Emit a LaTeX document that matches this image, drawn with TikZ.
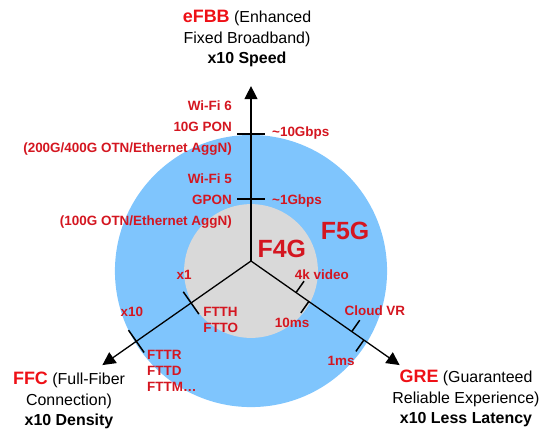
\documentclass[tikz,border=0pt]{standalone}
\usepackage{fontspec}
\setmainfont{Liberation Sans}
\usetikzlibrary{arrows.meta}
\definecolor{hellblau}{RGB}{127,197,253}
\definecolor{hellgrau}{RGB}{217,217,217}
\definecolor{titelrot}{RGB}{238,16,22}
\definecolor{markerrot}{RGB}{212,22,32}
\tikzset{
    achse/.style={line width=1.3pt, -{Triangle[length=13pt,width=13pt]}},
    strich/.style={line width=1.5pt},
    rotlabel/.style={text=markerrot, font=\fontsize{13.5}{16}\selectfont\bfseries, inner sep=0pt},
    gross/.style={rotlabel, font=\fontsize{25}{30}\selectfont\bfseries},
    titel/.style={align=center, font=\fontsize{16}{20.5}\selectfont, inner sep=0pt},
}
\newcommand{\rot}[1]{{\color{titelrot}\fontsize{18}{20.5}\selectfont\bfseries #1}}
\begin{document}
\begin{tikzpicture}
            \useasboundingbox (-8.855,-6.28) rectangle (10.548,9.208);
            % Kreise
            \fill [hellblau] (0,-0.353) circle (4.80);
            \fill [hellgrau] (0,-0.353) circle (2.36);
            % Achsen
            \coordinate (o) at (0,0);
            \coordinate (efbb) at (90:6.17);
            \coordinate (ffc) at (215:6.4);
            \coordinate (gre) at (-35:6.4);
            \draw [achse] (o) -- (efbb);
            \draw [achse] (o) -- (ffc);
            \draw [achse] (o) -- (gre);
            % Markierungen
            \draw [strich] (90:4.48) ++(-0.49,0) -- ++(0.98,0);
            \draw [strich] (90:2.19) ++(-0.49,0) -- ++(0.98,0);
            \draw [strich] (215:2.58) ++(125:0.48) -- ++(-55:0.96);
            \draw [strich] (215:4.94) ++(125:0.48) -- ++(-55:0.96);
            \draw [strich] (-35:1.94) -- ++(55:0.49);
            \draw [strich] (-35:2.49) -- ++(-125:0.49);
            \draw [strich] (-35:4.34) -- ++(55:0.49);
            \draw [strich] (-35:4.86) -- ++(-125:0.49);
            % Titel
            \node [titel] (tEFBB) at (-0.14, 7.85) {\rot{eFBB} (Enhanced\\Fixed Broadband)\\\textbf{x10 Speed}};
            \node [titel] (tFFC)  at (-6.42,-4.92) {\rot{FFC} (Full-Fiber\\Connection)\\\textbf{x10 Density}};
            \node [titel] (tGRE)  at ( 7.585,-4.85) {\rot{GRE} (Guaranteed\\Reliable Experience)\\\textbf{x10 Less Latency}};
            % Bandbreite
            \node [rotlabel, anchor=base east] (wifi6)  at (-0.67, 5.30) {Wi-Fi 6};
            \node [rotlabel, anchor=base east] (pon10)  at (-0.67, 4.56) {10G PON};
            \node [rotlabel, anchor=base east] (otn400) at (-0.67, 3.82) {(200G/400G OTN/Ethernet AggN)};
            \node [rotlabel, anchor=base east] (wifi5)  at (-0.67, 2.72) {Wi-Fi 5};
            \node [rotlabel, anchor=base east] (gpon)   at (-0.67, 1.98) {GPON};
            \node [rotlabel, anchor=base east] (otn100) at (-0.67, 1.24) {(100G OTN/Ethernet AggN)};
            \node [rotlabel, anchor=base west] (g10)    at ( 0.74, 4.38) {\textasciitilde 10Gbps};
            \node [rotlabel, anchor=base west] (g1)     at ( 0.74, 1.98) {\textasciitilde 1Gbps};
            % Generationen
            \node [gross] (f5g) at (3.32, 1.06) {F5G};
            \node [gross] (f4g) at (1.09, 0.42) {F4G};
            % Latenz
            \node [rotlabel] (video)   at (2.50,-0.49) {4k video};
            \node [rotlabel] (ms10)    at (1.45,-2.19) {10ms};
            \node [rotlabel] (cloudvr) at (4.37,-1.76) {Cloud VR};
            \node [rotlabel] (ms1)     at (3.18,-3.53) {1ms};
            % Dichte
            \node [rotlabel] (x1)  at (-2.36,-0.49) {x1};
            \node [rotlabel] (x10) at (-4.20,-1.80) {x10};
            \node [rotlabel, align=left, anchor=west] (ftth) at (-1.69,-2.08) {FTTH\\FTTO};
            \node [rotlabel, align=left, anchor=west] (fttr) at (-3.67,-3.88) {FTTR\\FTTD\\FTTM\ldots};
        \end{tikzpicture}
\end{document}
